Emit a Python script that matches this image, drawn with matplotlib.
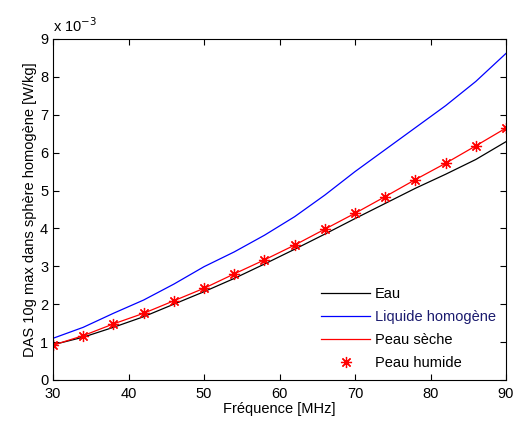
import matplotlib
matplotlib.use('Agg')
import matplotlib.pyplot as plt
import numpy as np

plt.rcParams['font.family'] = ['Liberation Sans', 'DejaVu Sans']

freq = [30, 34, 38, 42, 46, 50, 54, 58, 62, 66, 70, 74, 78, 82, 86, 90]

# DAS values shown in units of 1e-3 W/kg
eau = [0.93, 1.13, 1.39, 1.67, 2.00, 2.33, 2.68, 3.06, 3.45, 3.85, 4.26,
       4.66, 5.06, 5.43, 5.82, 6.29]
liquide = [1.10, 1.39, 1.76, 2.11, 2.53, 2.99, 3.38, 3.82, 4.31, 4.88, 5.50,
           6.08, 6.66, 7.24, 7.88, 8.62]
peau_seche = [0.92, 1.17, 1.48, 1.76, 2.09, 2.42, 2.80, 3.17, 3.56, 3.98, 4.40,
              4.84, 5.29, 5.72, 6.18, 6.65]
peau_humide = peau_seche

fig = plt.figure(figsize=(5.16, 4.26), dpi=100)
ax = fig.add_axes([0.1027, 0.108, 0.878, 0.8005])

ax.plot(freq, eau, color='black', lw=0.9, label='Eau')
ax.plot(freq, liquide, color='#0000ff', lw=0.9, label='Liquide homogène')
ax.plot(freq, peau_seche, color='#ff0000', lw=0.9, label='Peau sèche')
ax.plot(freq, peau_humide, ls='none', marker=(8, 2, 0), color='#ff0000',
        markersize=8, markeredgewidth=0.9, label='Peau humide')

ax.set_xlim(30, 90)
ax.set_ylim(0, 9)
ax.set_xticks(np.arange(30, 91, 10))
ax.set_yticks(np.arange(0, 10, 1))
ax.tick_params(direction='in', top=True, right=True, labelsize=10.5, length=4)
ax.tick_params(axis='x', pad=5)
for s in ax.spines.values():
    s.set_linewidth(0.8)

ax.set_xlabel('Fréquence [MHz]', fontsize=10.5, labelpad=1)
ax.set_ylabel('DAS 10g max dans sphère homogène [W/kg]', fontsize=10.5, labelpad=2)
ax.text(0.0, 1.012, 'x 10$^{-3}$', transform=ax.transAxes, fontsize=10.5,
        ha='left', va='bottom')

leg = ax.legend(loc='lower right', frameon=False, fontsize=10.5,
                handlelength=3.4, handletextpad=0.3, labelspacing=0.62,
                borderaxespad=0.3)
leg.get_texts()[1].set_color('#1a1a6e')

fig.savefig('out.png', dpi=100)
